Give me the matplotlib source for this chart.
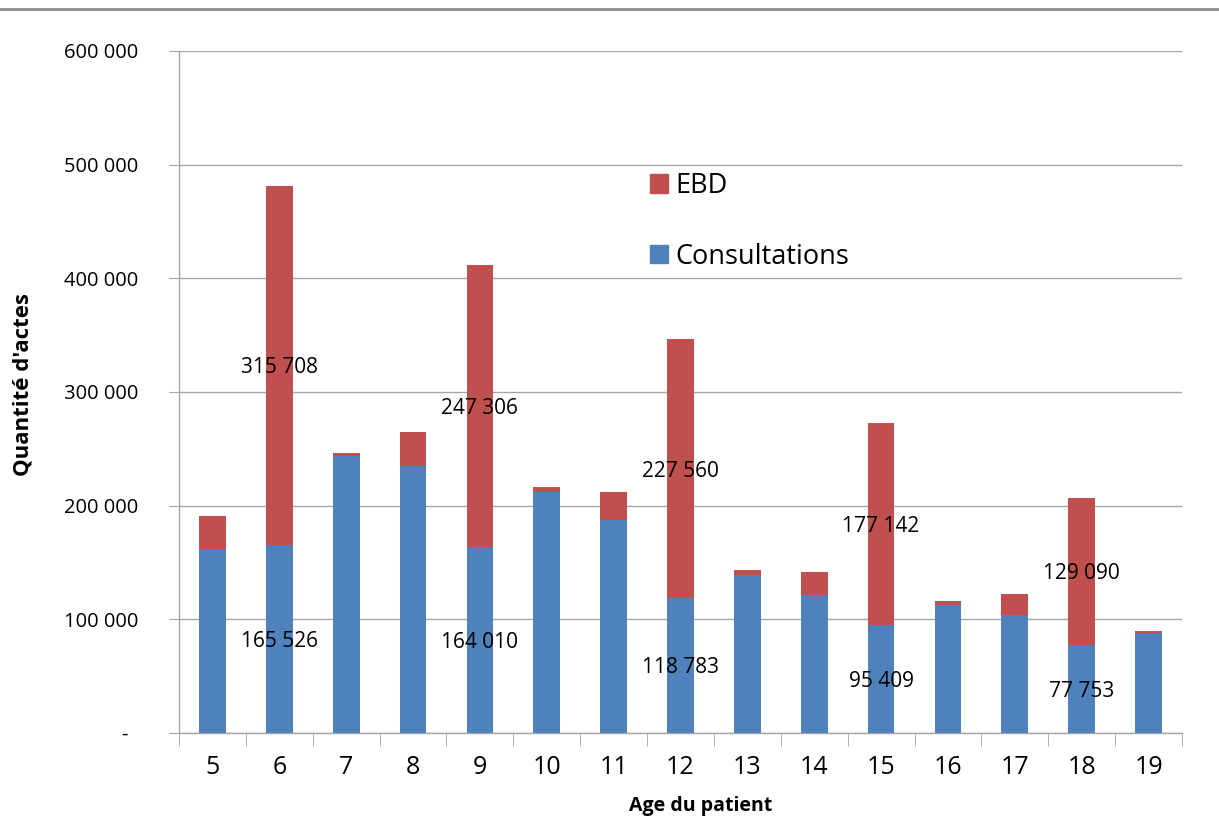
import matplotlib
matplotlib.use('Agg')
import matplotlib.pyplot as plt
from matplotlib.patches import Patch
from matplotlib.lines import Line2D
import numpy as np

ages = [5, 6, 7, 8, 9, 10, 11, 12, 13, 14, 15, 16, 17, 18, 19]
consultations = [162000, 165526, 243700, 235000, 164010, 211800, 187200, 118783,
                 138800, 121300, 95409, 112300, 104100, 77753, 87700]
ebd = [28900, 315708, 2700, 30200, 247306, 4300, 24600, 227560,
       4400, 20200, 177142, 4100, 18200, 129090, 2300]
# ages whose segments carry a value label
labelled_ages = [6, 9, 12, 15, 18]

y_ticks = [0, 100000, 200000, 300000, 400000, 500000, 600000]
y_tick_labels = ['-  ', '100 000', '200 000', '300 000', '400 000', '500 000', '600 000']

BLUE = '#4F81BD'
RED = '#C0504D'
GRID = '#A6A6A6'

plt.rcParams['font.family'] = ['Open Sans', 'DejaVu Sans']

W, H = 1219, 825
fig = plt.figure(figsize=(W / 100, H / 100), dpi=100)
ax = fig.add_axes([179 / W, 1 - 733 / H, (1182 - 179) / W, (733 - 51) / H])

x = np.arange(len(ages))
ax.bar(x, consultations, width=0.4, color=BLUE, zorder=3)
ax.bar(x, ebd, width=0.4, bottom=consultations, color=RED, zorder=3)


def fmt(v):
        return f'{v:,}'.replace(',', ' ')


for i, age in enumerate(ages):
        if age in labelled_ages:
                ax.text(i, consultations[i] / 2, fmt(consultations[i]),
                        ha='center', va='center_baseline', fontsize=15, color='black', zorder=4)
                ax.text(i, consultations[i] + ebd[i] / 2, fmt(ebd[i]),
                        ha='center', va='center_baseline', fontsize=15, color='black', zorder=4)

ax.set_xlim(-0.5, len(ages) - 0.5)
ax.set_ylim(0, 600000)

ax.set_yticks(y_ticks)
ax.set_yticklabels(y_tick_labels, fontsize=14.5)
ax.set_xticks(x)
ax.set_xticklabels([str(a) for a in ages], fontsize=18)
ax.set_xticks(np.arange(-0.5, len(ages), 1), minor=True)

ax.tick_params(axis='x', which='major', length=0, pad=16)
ax.tick_params(axis='x', which='minor', length=9, color=GRID, direction='out')
ax.tick_params(axis='y', length=7, color=GRID, direction='out', pad=22)

ax.yaxis.grid(True, color=GRID, linewidth=1, zorder=0)
for s in ['top', 'right']:
        ax.spines[s].set_visible(False)
for s in ['left', 'bottom']:
        ax.spines[s].set_color(GRID)
        ax.spines[s].set_linewidth(1)

ax.set_ylabel("Quantité d'actes", fontsize=16, fontweight='bold', va='center')
ax.yaxis.set_label_coords((23 - 179) / 1003, (733 - 385) / 682)
ax.set_xlabel('Age du patient', fontsize=14, fontweight='bold', va='center')
ax.xaxis.set_label_coords((701 - 179) / 1003, (733 - 806) / 682)

handles = [Patch(color=RED, label='EBD'), Patch(color=BLUE, label='Consultations')]
ax.legend(handles=handles, loc='upper left', bbox_to_anchor=(650 / W, 1 - 172 / H),
          bbox_transform=fig.transFigure, frameon=False, fontsize=19.5,
          handlelength=0.65, handleheight=0.65, handletextpad=0.3,
          labelspacing=1.58, borderpad=0, borderaxespad=0)

# thin grey rule across the top of the picture
fig.add_artist(Line2D([0, 1], [1 - 8.5 / H, 1 - 8.5 / H], transform=fig.transFigure,
                      color='#8C8C8C', linewidth=2))

fig.savefig('out.png', dpi=100)
